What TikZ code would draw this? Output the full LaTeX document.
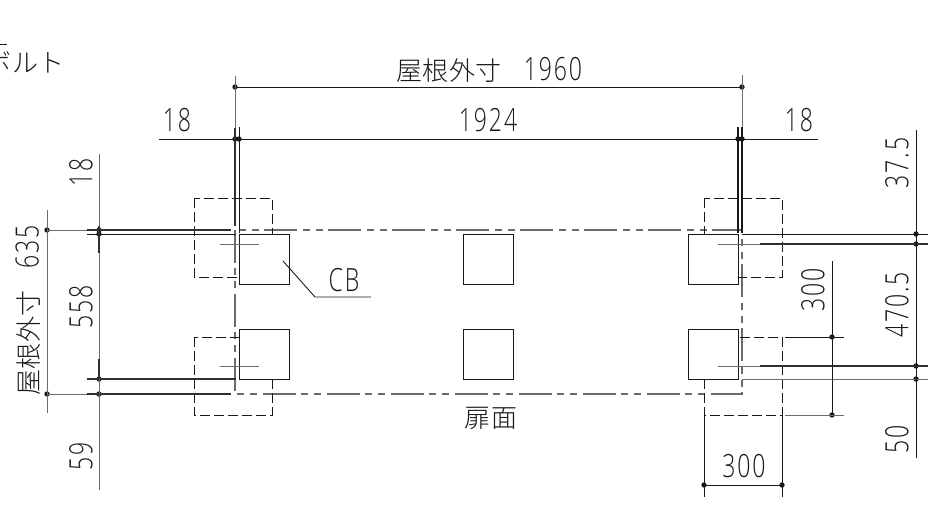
\documentclass[tikz,border=0pt]{standalone}
\usepackage{fontspec}
\newfontfamily\digf[FakeStretch=0.72,LetterSpace=6]{Open Sans Light}
\newfontfamily\cjkf[LetterSpace=2]{Noto Sans CJK JP Light}
\newcommand{\bigdig}{\digf\fontsize{32}{32}\selectfont}
\definecolor{ink}{gray}{0.1}
\definecolor{soft}{gray}{0.42}
\tikzset{
 x=1pt,y=-1pt,
 dimline/.style={draw=ink,line width=0.9pt},
 softline/.style={draw=soft,line width=1pt},
 heavyline/.style={draw=ink!90,line width=1.5pt},
 dashbox/.style={draw=ink,line width=0.9pt,dash pattern=on 10pt off 4pt},
 chain/.style={draw=soft,line width=1.1pt,dash pattern=on 33pt off 5pt on 7pt off 6pt on 7pt off 6pt},
 pier/.style={draw=ink,line width=1.1pt,fill=white,minimum width=50pt,minimum height=50pt,inner sep=0pt,anchor=north west},
 lbl/.style={inner sep=0pt,text=ink,font=\bigdig},
 jlbl/.style={inner sep=0pt,text=ink,font=\cjkf\fontsize{26}{26}\selectfont},
 tick/.style={circle,fill=ink,inner sep=0pt,minimum size=5.4pt},
}
\begin{document}
\begin{tikzpicture}
\useasboundingbox (0,0) rectangle (937,506);
\clip (0,0) rectangle (937,506);
% free ends
\foreach \n/\x/\y in {
 L1a/235/76,L1b/235/128,L1c/235/226,L2a/239/127,L2b/239/233,
 R1a/742/75,R1b/742/233,R2a/738/127,R2b/738/233,
 T2a/159/139,T2b/818/139,
 H1a/231/230,H2a/236/234,H3a/236/379,H4a/231/394,
 V1a/47/210,V1b/47/413,V2a/99/154,V2b/99/490,V2c/99/226,V2d/99/253,V2e/99/359,
 H1s/87/230,H2s/87/234,H3s/87/379,H4s/87/394,
 Ra/742/234,Rb/928/234,Rc/718/244,Rd/760/244,Re/928/244,
 Rf/718/366,Rg/760/366,Rh/928/366,Ri/742/379,Rj/928/379,
 Va/916/130,Vb/916/458,
 Wa/832/261,Wb/785/337,Wc/844/337,Wd/785/415,We/844/415,
 Xa/704/415,Xb/704/497,Xc/782/415,Xd/782/497,
 Ca/220/244,Cb/259/244,Cc/220/366,Cd/259/366,
 La/283/261,Lb/315/297,Lc/371/297,
 Sa/-1/44,Sb/7/44,
 O1/235/230,O2/742/394,
 B1a/194/198,B1b/272/277,B2a/194/337,B2b/272/415,B3a/704/198,B3b/782/277,B4a/704/337,B4b/782/415}
  \coordinate (\n) at (\x,\y);
% dimension dots
\foreach \n/\x/\y in {
 D1/235/87,D2/742/87,D3/235/139,D4/239/139,D5/738/139,D6/742/139,
 D7/47/230,D8/99/230,D9/99/234,D10/99/379,D11/99/394,D12/47/394,
 D13/916/234,D14/916/244,D15/916/366,D16/916/379,
 D17/832/337,D18/832/415,D19/704/485,D20/782/485}
  \node[tick] (\n) at (\x,\y) {};
% roof outline and dashed boxes
\draw[chain] (O1) rectangle (O2);
\draw[dashbox] (B1a) rectangle (B1b);
\draw[dashbox] (B2a) rectangle (B2b);
\draw[dashbox] (B3a) rectangle (B3b);
\draw[dashbox] (B4a) rectangle (B4b);
% piers
\foreach \n/\x/\y in {a/239/234,b/463/234,c/688/234,d/239/329,e/463/329,f/688/329}
  \node[pier] (\n) at (\x,\y) {};
% dimension lines
\draw[dimline] (D1.center) -- (D2.center);
\draw[dimline] (T2a) -- (T2b);
\draw[softline] (L1a) -- (L1b);
\draw[heavyline] (L1b) -- (L1c);
\draw[dimline] (L2a) -- (L2b);
\draw[softline] (R1a) -- (R2a -| R1a);
\draw[dimline,line width=1.2pt] (R2a -| R1a) -- (R1b);
\draw[dimline,line width=1.2pt] (R2a) -- (R2b);
\draw[softline] (D7.center) -- (H1s);
\draw[heavyline] (H1s) -- (H1a);
\draw[dimline] (H2s) -- (H2a);
\draw[heavyline] (H3s) -- (H3a);
\draw[softline] (D12.center) -- (H4s);
\draw[heavyline] (H4s) -- (H4a);
\draw[softline] (V1a) -- (V1b);
\draw[softline] (V2a) -- (V2b);
\draw[heavyline] (V2c) -- (V2d);
\draw[heavyline] (V2e) -- (D10.center);
\draw[dimline] (Ra) -- (Rb);
\draw[softline] (Rc) -- (Rd);
\draw[heavyline] (Rd) -- (Re);
\draw[softline] (Rf) -- (Rg);
\draw[heavyline] (Rg) -- (Rh);
\draw[softline] (Ri) -- (Rj);
\draw[dimline] (Va) -- (Vb);
\draw[dimline] (Wa) -- (D18.center);
\draw[dimline] (Wb) -- (Wc);
\draw[softline] (Wd) -- (We);
\draw[dimline] (Xa) -- (Xb);
\draw[dimline] (Xc) -- (Xd);
\draw[dimline] (D19.center) -- (D20.center);
\draw[softline] (Ca) -- (Cb);
\draw[softline] (Cc) -- (Cd);
\draw[dimline] (La) -- (Lb) -- (Lc);
\draw[dimline] (Sa) -- (Sb);
% labels
\node[jlbl,anchor=west] (r) at (396,70) {屋根外寸\hspace{22pt}{\bigdig 1960}};
\node[lbl] (t1) at (177,120) {18};
\node[lbl] (t2) at (488,120) {1924};
\node[lbl] (t3) at (799,120) {18};
\node[jlbl,rotate=90,anchor=west] (t4) at (28,396) {屋根外寸\hspace{22pt}{\bigdig 635}};
\node[lbl,rotate=90] (t5) at (81,172) {18};
\node[lbl,rotate=90] (t6) at (81,307) {558};
\node[lbl,rotate=90] (t7) at (81,456) {59};
\node[lbl,rotate=90] (t8) at (897,163) {37.5};
\node[lbl,rotate=90] (t9) at (897,305) {470.5};
\node[lbl,rotate=90] (t10) at (897,439) {50};
\node[lbl,rotate=90] (t11) at (813,290) {300};
\node[lbl] (t12) at (744,466) {300};
\node[lbl] (t13) at (344,280) {CB};
\node[jlbl] (t14) at (491,418) {扉面};
\node[jlbl,anchor=east] (t15) at (65,62) {ボルト};
\end{tikzpicture}
\end{document}
